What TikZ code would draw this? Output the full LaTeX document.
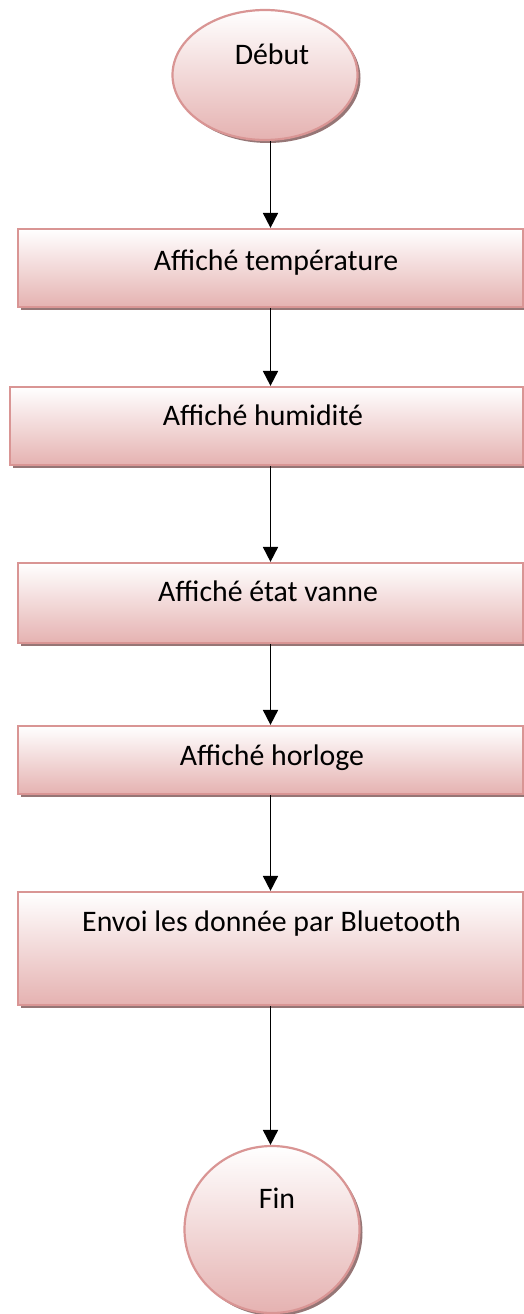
\documentclass[tikz,border=0pt]{standalone}
\usepackage{fontspec}
\setmainfont{Carlito}
\usetikzlibrary{shapes.geometric,shadows,arrows.meta}
\definecolor{boxpink}{RGB}{229,178,177}
\definecolor{boxedge}{RGB}{217,149,148}
\definecolor{shadowc}{RGB}{150,118,118}
\tikzset{
  boxshape/.style={draw=boxedge, line width=2.2pt, top color=white, bottom color=boxpink,
    general shadow={shadow xshift=3pt, shadow yshift=-3pt, fill=shadowc}},
  stepbox/.style={boxshape, rectangle, inner sep=0pt},
  termshape/.style={boxshape, ellipse, inner sep=0pt},
  lbl/.style={anchor=base, inner sep=0pt, font=\fontsize{29.8}{35}\selectfont},
  arr/.style={line width=1.8pt, -{Triangle[length=15pt,width=15pt]}}
}
\begin{document}
\begin{tikzpicture}[x=1pt,y=-1pt]
\useasboundingbox (0,0) rectangle (524,1314);
\node[termshape, minimum width=185pt, minimum height=130pt] (debut) at (265,75) {};
\node[stepbox, minimum width=505pt, minimum height=78pt] (b1) at (270.5,268) {};
\node[stepbox, minimum width=513pt, minimum height=78pt] (b2) at (266.5,426) {};
\node[stepbox, minimum width=505pt, minimum height=80pt] (b3) at (270.5,603) {};
\node[stepbox, minimum width=505pt, minimum height=68pt] (b4) at (270.5,760) {};
\node[stepbox, minimum width=505pt, minimum height=113pt] (b5) at (270.5,948.5) {};
\node[termshape, minimum width=175pt, minimum height=167pt] (fin) at (272,1229.5) {};
\node[lbl] (tdebut) at (272,64) {Début};
\node[lbl] (t1) at (276,270) {Affiché température};
\node[lbl] (t2) at (263,425) {Affiché humidité};
\node[lbl] (t3) at (268,601) {Affiché état vanne};
\node[lbl] (t4) at (272,765) {Affiché horloge};
\node[lbl] (t5) at (271.5,931) {Envoi les donnée par Bluetooth};
\node[lbl] (tfin) at (277,1208) {Fin};
\draw[arr] (debut.south -| b1.north) -- (b1.north);
\draw[arr] (b1.south) -- (b1.south |- b2.north);
\draw[arr] (b2.south -| b3.north) -- (b3.north);
\draw[arr] (b3.south) -- (b4.north);
\draw[arr] (b4.south) -- (b5.north);
\draw[arr] (b5.south) -- (b5.south |- fin.north);
\end{tikzpicture}
\end{document}
